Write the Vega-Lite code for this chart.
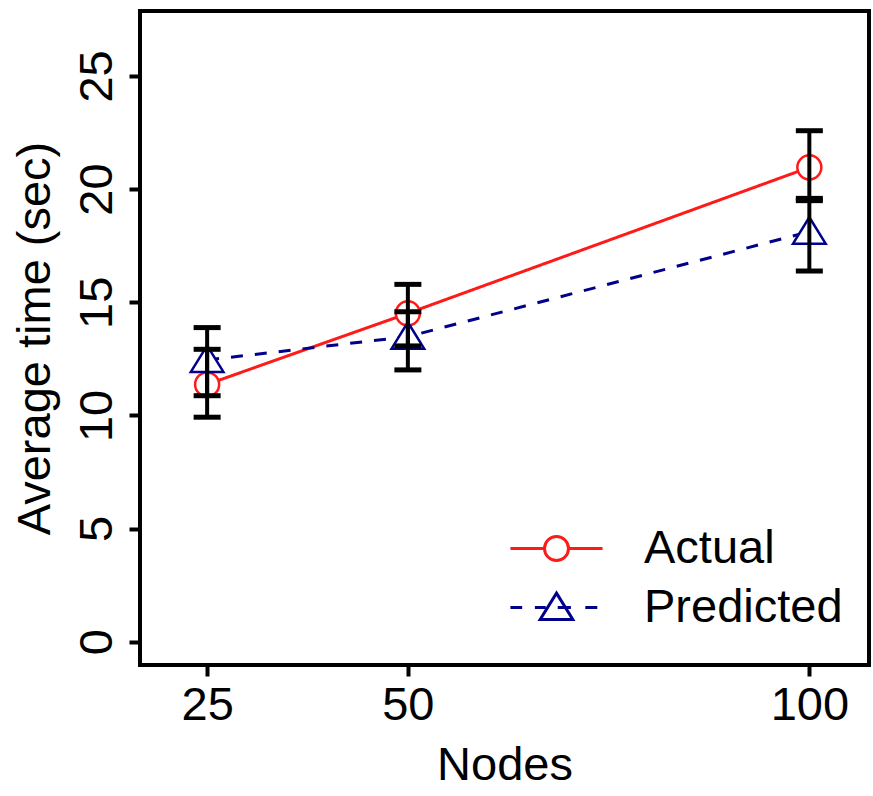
{
  "$schema": "https://vega.github.io/schema/vega-lite/v6.json",
  "width": 729,
  "height": 654,
  "autosize": {"type": "none"},
  "padding": {"left": 140, "top": 11, "right": 4, "bottom": 131},
  "background": "white",
  "config": {
    "view": {"stroke": "black", "strokeWidth": 4},
    "font": "Liberation Sans",
    "axis": {
      "domain": false,
      "grid": false,
      "tickColor": "black",
      "tickWidth": 4,
      "tickSize": 11,
      "labelFontSize": 47,
      "labelColor": "black",
      "labelFont": "Liberation Sans",
      "titleFontSize": 47,
      "titleFontWeight": "normal",
      "titleColor": "black",
      "titleFont": "Liberation Sans"
    },
    "legend": {
      "labelFontSize": 47,
      "labelFont": "Liberation Sans",
      "labelColor": "black",
      "labelLimit": 0,
      "symbolStrokeWidth": 3,
      "symbolSize": 2304,
      "padding": 0,
      "rowPadding": 10,
      "labelOffset": 62,
      "title": null
    }
  },
  "data": {
    "values": [
      {"nodes": 25, "series": "Actual", "time": 11.37, "lo": 9.92, "hi": 12.92},
      {"nodes": 50, "series": "Actual", "time": 14.51, "lo": 13.07, "hi": 15.79},
      {"nodes": 100, "series": "Actual", "time": 20.96, "lo": 19.59, "hi": 22.58},
      {"nodes": 25, "series": "Predicted", "time": 12.45, "lo": 10.87, "hi": 13.88},
      {"nodes": 50, "series": "Predicted", "time": 13.48, "lo": 12.01, "hi": 14.58},
      {"nodes": 100, "series": "Predicted", "time": 18.12, "lo": 16.38, "hi": 19.49}
    ]
  },
  "encoding": {
    "x": {
      "field": "nodes",
      "type": "quantitative",
      "scale": {"domain": [16.64, 107.43], "nice": false, "zero": false},
      "axis": {"values": [25, 50, 100], "title": "Nodes", "labelPadding": 6, "titlePadding": 14}
    }
  },
  "layer": [
    {
      "mark": {"type": "line", "strokeWidth": 3},
      "encoding": {
        "y": {
          "field": "time",
          "type": "quantitative",
          "title": "Average time (sec)",
          "scale": {"domain": [-1.03, 27.87], "nice": false, "zero": false},
          "axis": {"values": [0, 5, 10, 15, 20, 25], "title": "Average time (sec)", "labelAngle": -90, "labelPadding": 8, "titlePadding": 14}
        },
        "color": {
          "field": "series",
          "type": "nominal",
          "scale": {"domain": ["Actual", "Predicted"], "range": ["#ff1a1a", "#00008b"]},
          "legend": null
        },
        "strokeDash": {
          "field": "series",
          "type": "nominal",
          "scale": {"domain": ["Actual", "Predicted"], "range": [[1, 0], [12, 12]]},
          "legend": null
        }
      }
    },
    {
      "mark": {"type": "point", "filled": true, "fill": "white", "size": 2304, "strokeWidth": 2.5, "opacity": 1},
      "encoding": {
        "y": {"field": "time", "type": "quantitative", "title": "Average time (sec)"},
        "stroke": {
          "field": "series",
          "type": "nominal",
          "scale": {"domain": ["Actual", "Predicted"], "range": ["#ff1a1a", "#00008b"]},
          "legend": null
        },
        "shape": {
          "field": "series",
          "type": "nominal",
          "scale": {
            "domain": ["Actual", "Predicted"],
            "range": [
              "M0.5,0A0.5,0.5,0,1,1,-0.5,0A0.5,0.5,0,1,1,0.5,0Z",
              "M0,-0.6L0.68,0.5L-0.68,0.5Z"
            ]
          },
          "legend": null
        }
      }
    },
    {
      "mark": {
        "type": "errorbar",
        "color": "black",
        "opacity": 1,
        "ticks": {"size": 27, "thickness": 5, "color": "black", "opacity": 1},
        "rule": {"strokeWidth": 4, "color": "black", "opacity": 1}
      },
      "encoding": {
        "y": {"field": "lo", "type": "quantitative", "title": "Average time (sec)"},
        "y2": {"field": "hi"}
      }
    },
    {
      "transform": [{"filter": "datum.nodes < 0"}],
      "mark": {"type": "point", "filled": false, "size": 2304, "strokeWidth": 3, "opacity": 1},
      "encoding": {
        "y": {"field": "time", "type": "quantitative", "title": "Average time (sec)"},
        "stroke": {
          "field": "series",
          "type": "nominal",
          "scale": {"domain": ["Actual", "Predicted"], "range": ["#ff1a1a", "#00008b"]},
          "legend": {"orient": "none", "legendX": 391, "legendY": 512, "title": null}
        },
        "shape": {
          "field": "series",
          "type": "nominal",
          "scale": {
            "domain": ["Actual", "Predicted"],
            "range": [
              "M-1.92,0H-0.5A0.5,0.5,0,1,1,0.5,0A0.5,0.5,0,1,1,-0.5,0M0.5,0H1.92",
              "M-1.92,0H-1.43M-0.9,0H-0.45M0.05,0H0.6M1.2,0H1.7M0,-0.6L0.68,0.5L-0.68,0.5Z"
            ]
          },
          "legend": {"orient": "none", "legendX": 391, "legendY": 512, "title": null}
        }
      }
    }
  ],
  "resolve": {"scale": {"shape": "independent", "stroke": "independent"}}
}
